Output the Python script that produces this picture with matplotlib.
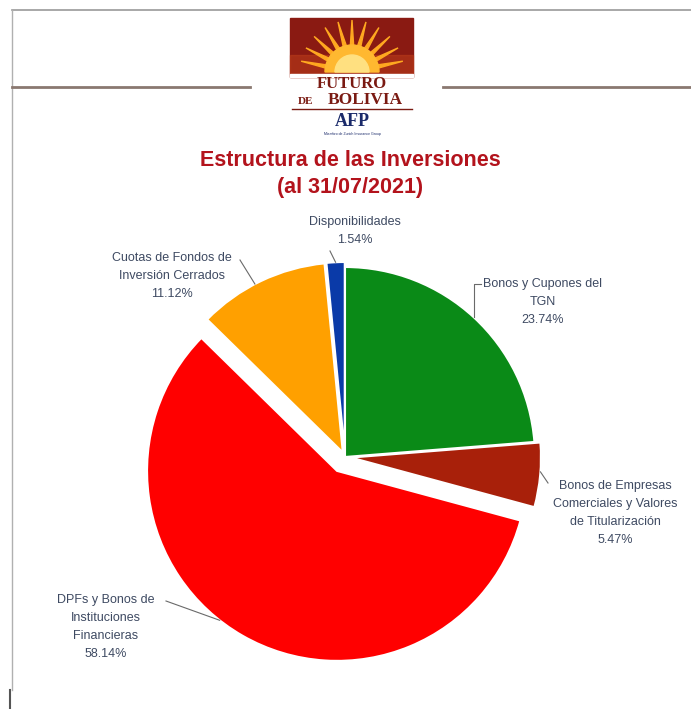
import matplotlib
matplotlib.use("Agg")
import matplotlib.pyplot as plt
from matplotlib.patches import Rectangle, Wedge, Polygon
import numpy as np

# datos
categorias = ["Bonos y Cupones del\nTGN",
              "Bonos de Empresas\nComerciales y Valores\nde Titularización",
              "DPFs y Bonos de\nInstituciones\nFinancieras",
              "Cuotas de Fondos de\nInversión Cerrados",
              "Disponibilidades"]
valores = [23.74, 5.47, 58.14, 11.12, 1.54]
colores = ["#0a8a17", "#a8200a", "#ff0000", "#ffa000", "#0a3aa8"]
separar = [0, 6, 16, 5, 5]   # en pixeles

plt.rcParams["font.family"] = ["Liberation Sans Narrow", "Liberation Sans", "DejaVu Sans"]

W, H = 691, 709
fig = plt.figure(figsize=(W / 100, H / 100), dpi=100)
ax = fig.add_axes([0, 0, 1, 1])
ax.set_xlim(0, W)
ax.set_ylim(0, H)
ax.set_aspect("equal")
ax.axis("off")

def py(y):
    # y de pixel (arriba) a coordenada
    return H - y

# marco
ax.plot([12, W], [py(10), py(10)], color="#9a9a9a", lw=1.2)
ax.plot([12, 12], [py(10), py(690)], color="#b0b0b0", lw=1.0)
ax.plot([10, 10], [py(690), py(709)], color="#555555", lw=1.5)
ax.plot([12, 250], [py(87), py(87)], color="#8a7870", lw=2)
ax.plot([443, W], [py(87), py(87)], color="#8a7870", lw=2)

# logo
ax.add_patch(Rectangle((290, py(77)), 123, 59, color="#8a1a12", zorder=2))
ax.add_patch(Rectangle((290, py(77)), 123, 22, color="#c0401a", alpha=0.5, zorder=2))
sx, sy = 352, py(72)
for a in np.linspace(12, 168, 11):
    t = np.radians(a)
    p = np.radians(6)
    pts = [(sx + 20 * np.cos(t - p), sy + 20 * np.sin(t - p)),
           (sx + 52 * np.cos(t), sy + 52 * np.sin(t)),
           (sx + 20 * np.cos(t + p), sy + 20 * np.sin(t + p))]
    ax.add_patch(Polygon(pts, color="#ffa820", zorder=3))
ax.add_patch(Wedge((sx, sy), 27, 0, 180, color="#ffb830", zorder=4))
ax.add_patch(Wedge((sx, sy), 17, 0, 180, color="#ffe080", zorder=4))
ax.add_patch(Rectangle((290, py(77)), 123, 3, color="#ffffff", zorder=5))
ax.text(352, py(84), "FUTURO", ha="center", va="center", fontsize=12, weight="bold",
        family=["Liberation Serif"], color="#7a1a12", zorder=6)
ax.text(306, py(101), "DE", ha="center", va="center", fontsize=8, weight="bold",
        family=["Liberation Serif"], color="#7a1a12", zorder=6)
ax.text(365, py(100), "BOLIVIA", ha="center", va="center", fontsize=12.5, weight="bold",
        family=["Liberation Serif"], color="#7a1a12", zorder=6)
ax.plot([292, 412], [py(109), py(109)], color="#7a1a12", lw=1)
ax.text(352, py(121), "AFP", ha="center", va="center", fontsize=13, weight="bold",
        family=["Liberation Serif"], color="#1a2a6a")
ax.text(352, py(134), "Miembro de Zurich Insurance Group", ha="center", va="center",
        fontsize=2.5, color="#1a2a6a")

# titulo
ax.text(350, py(160), "Estructura de las Inversiones", ha="center", va="center",
        fontsize=15.5, weight="bold", color="#b3131c")
ax.text(350, py(187), "(al 31/07/2021)", ha="center", va="center",
        fontsize=15.5, weight="bold", color="#b3131c")

# torta
centro = (345, py(457))
radio = 190
wedges, _ = ax.pie(valores, colors=colores, explode=separar, startangle=90,
                   counterclock=False, center=centro, radius=radio,
                   wedgeprops=dict(edgecolor="white", linewidth=1.5))
ax.set_xlim(0, W)
ax.set_ylim(0, H)

textos = [f"{c}\n{v:.2f}%" for c, v in zip(categorias, valores)]
pos_texto = [(543, py(302)), (615, py(513)), (106, py(627)), (172, py(276)), (355, py(231))]
for t, (tx, ty) in zip(textos, pos_texto):
    ax.text(tx, ty, t, ha="center", va="center", fontsize=9,
            color="#3e4a62", linespacing=1.7)

gris = "#6a6a6a"
# lineas guía
def guia(p0, w, f, codo=False):
    ang = np.radians(w.theta1 + f * (w.theta2 - w.theta1))
    cx, cy = w.center
    xy = (cx + w.r * np.cos(ang), cy + w.r * np.sin(ang))
    if codo:
        ax.plot([p0[0], xy[0], xy[0]], [p0[1], p0[1], xy[1]], color=gris, lw=0.8)
    else:
        ax.plot([p0[0], xy[0]], [p0[1], xy[1]], color=gris, lw=0.8)

guia((330, py(251)), wedges[4], 0.5)
guia((481, py(284)), wedges[0], 0.5, codo=True)
guia((548, py(483)), wedges[1], 0.55)
guia((166, py(601)), wedges[2], 0.46)
guia((240, py(260)), wedges[3], 0.55)

fig.savefig("out.png", dpi=100, facecolor="white")
